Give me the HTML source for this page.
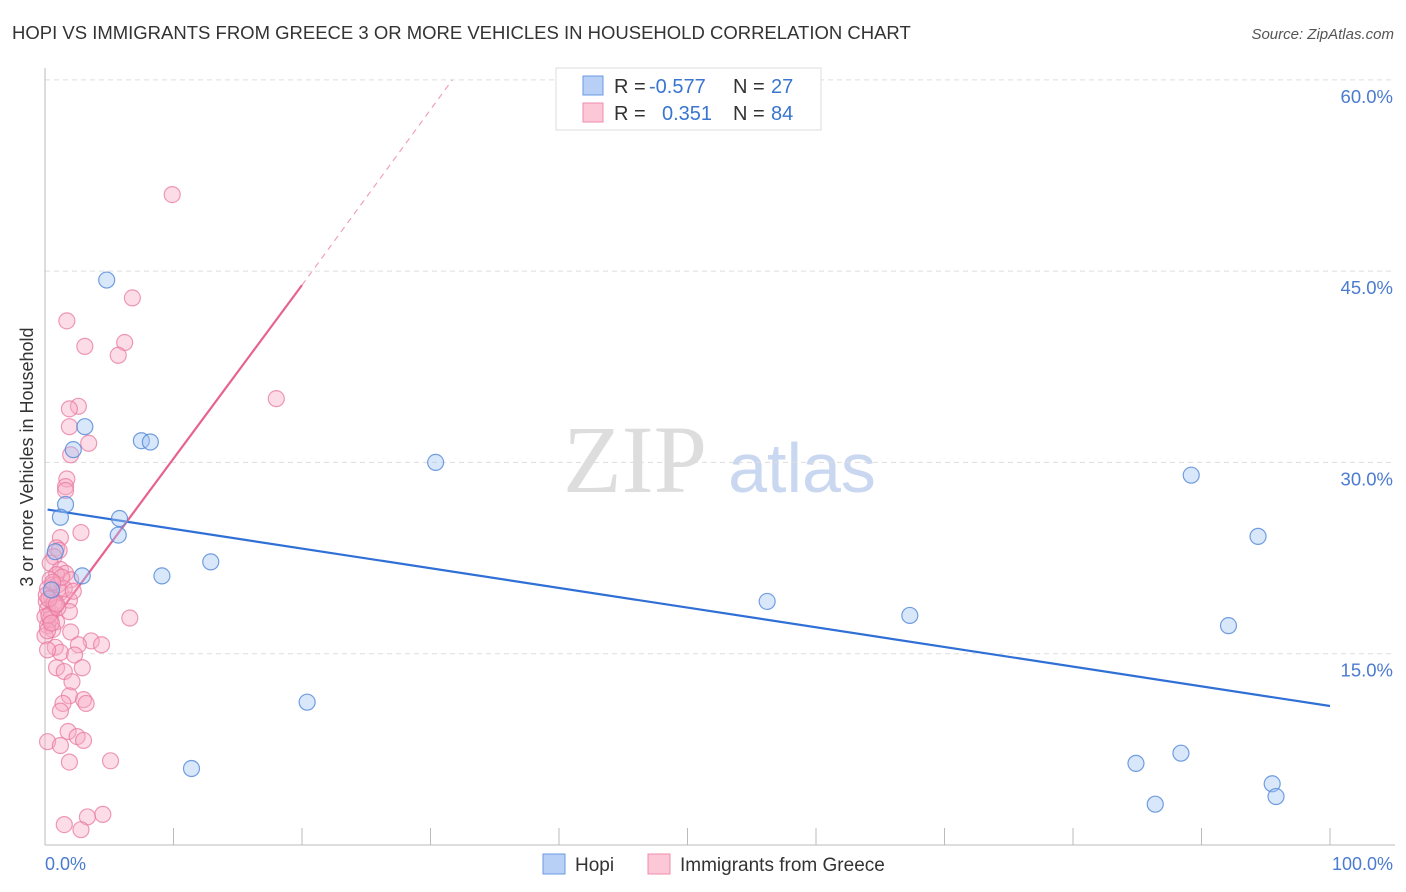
<!DOCTYPE html>
<html><head><meta charset="utf-8"><style>
body{margin:0;background:#fff;font-family:"Liberation Sans",sans-serif;}
svg{display:block}
</style></head><body>
<svg id="chart" width="1406" height="892">
<text x="12" y="39" font-size="18.5" fill="#333">HOPI VS IMMIGRANTS FROM GREECE 3 OR MORE VEHICLES IN HOUSEHOLD CORRELATION CHART</text>
<text x="1394" y="39" font-size="15" fill="#555" font-style="italic" text-anchor="end">Source: ZipAtlas.com</text>
<text x="635" y="492" font-size="96" fill="#ddd" font-family="Liberation Serif,serif" text-anchor="middle">ZIP</text>
<text x="802" y="492" font-size="70" fill="#c9d8f0" text-anchor="middle">atlas</text>
<g id="grid"></g><g id="axes"></g><g id="lines"></g><g id="pts"></g>
<text transform="translate(33,457) rotate(-90)" font-size="18" fill="#333" text-anchor="middle">3 or more Vehicles in Household</text>
<text x="45" y="870" font-size="18" fill="#4a7bd0">0.0%</text>
<text x="1393" y="870" font-size="18" fill="#4a7bd0" text-anchor="end">100.0%</text>
<g>
<rect x="556" y="68" width="265" height="62" fill="#fff" stroke="#ddd"/>
<rect x="583" y="76" width="20" height="19" fill="#b8d0f5" stroke="#6a9ae0"/>
<rect x="583" y="103" width="20" height="19" fill="#fcc8d8" stroke="#ee8cab"/>
<text x="614" y="93" font-size="20" fill="#333">R =</text>
<text x="649" y="93" font-size="20" fill="#3a75d0">-0.577</text>
<text x="733" y="93" font-size="20" fill="#333">N =</text>
<text x="771" y="93" font-size="20" fill="#3a75d0">27</text>
<text x="614" y="120" font-size="20" fill="#333">R =</text>
<text x="662" y="120" font-size="20" fill="#3a75d0">0.351</text>
<text x="733" y="120" font-size="20" fill="#333">N =</text>
<text x="771" y="120" font-size="20" fill="#3a75d0">84</text>
</g>
<g>
<rect x="543" y="854" width="22" height="20" fill="#b8d0f5" stroke="#6a9ae0"/>
<text x="575" y="871" font-size="19" fill="#333">Hopi</text>
<rect x="648" y="854" width="22" height="20" fill="#fcc8d8" stroke="#ee8cab"/>
<text x="680" y="871" font-size="19" fill="#333">Immigrants from Greece</text>
</g>
</svg>
<script>
const yTicks=[15,30,45,60];
const yTickLabels=["15.0%","30.0%","45.0%","60.0%"];
const xTicks=[0,10,20,30,40,50,60,70,80,90,100];
const hopiX=[4.8,3.1,2.2,7.5,8.2,30.4,1.6,1.2,5.8,5.7,0.8,2.9,9.1,12.9,56.2,67.3,89.2,94.4,92.1,20.4,11.4,84.9,88.4,86.4,95.5,95.8,0.5];
const hopiY=[44.3,32.8,31.0,31.7,31.6,30.0,26.7,25.7,25.6,24.3,23.0,21.1,21.1,22.2,19.1,18.0,29.0,24.2,17.2,11.2,6.0,6.4,7.2,3.2,4.8,3.8,20.0];
const greeceX=[9.9,6.8,1.7,6.2,3.1,5.7,18.0,2.6,1.9,1.9,3.4,2.0,1.7,1.6,1.6,2.8,1.2,0.9,1.1,0.7,0.4,1.2,1.6,0.9,2.0,0.4,0.6,0.2,1.2,0.5,0.1,1.9,0.8,0.2,1.9,0.5,0,6.6,0.9,0.2,0.6,2.0,0,3.6,4.4,0.8,2.6,1.2,2.3,0.2,2.9,0.9,1.5,2.1,1.9,3.0,3.2,1.4,1.2,0.2,1.8,2.5,3.0,1.2,5.1,1.9,4.5,3.3,1.5,2.8,0.1,0.4,1.0,1.5,0.3,0.7,1.3,0.2,0.5,1.0,0.3,0.6,2.2,0.9];
const greeceY=[51.0,42.9,41.1,39.4,39.1,38.4,35.0,34.4,34.2,32.8,31.5,30.6,28.7,28.1,27.8,24.5,24.1,23.3,23.1,22.6,22.1,21.6,21.3,21.2,20.8,20.8,20.4,20.1,19.8,19.4,19.1,19.2,18.8,18.5,18.3,18.2,17.9,17.8,17.5,17.2,16.9,16.7,16.4,16.0,15.7,15.5,15.7,15.1,14.9,15.3,13.9,13.9,13.6,12.8,11.7,11.4,11.1,11.1,10.5,8.1,8.9,8.5,8.2,7.8,6.6,6.5,2.4,2.2,1.6,1.2,19.6,17.7,20.4,20.1,18.0,19.0,21.0,16.8,17.4,18.6,19.3,20.6,19.9,18.9];
const hopiTrendX=[0.2,100];
const hopiTrendY=[26.3,10.9];
const greeceTrendX=[0,20,31.7];
const greeceTrendY=[16.7,43.9,60];
const sx=v=>45+v*12.85;
const sy=v=>845-v*12.753;
const NS="http://www.w3.org/2000/svg";
function mk(tag,parent,attrs){const e=document.createElementNS(NS,tag);for(const k in attrs)e.setAttribute(k,attrs[k]);document.getElementById(parent).appendChild(e);return e;}
yTicks.forEach((t,i)=>{
 const l=mk('line','grid',{x1:45,x2:1395,y1:sy(t),y2:sy(t),stroke:'#ddd','stroke-dasharray':'5,4'});
 
 
 const tx=mk('text','grid',{x:1393,y:sy(t)+23,'font-size':18.5,fill:'#4a7bd0','text-anchor':'end'});
 tx.textContent=yTickLabels[i];
 
 
});
const ya=mk('line','axes',{x1:45,x2:45,y1:68,y2:845,stroke:'#bbb'});


const xa=mk('line','axes',{x1:45,x2:1395,y1:845,y2:845,stroke:'#bbb'});


xTicks.forEach(t=>{
 const l=mk('line','axes',{x1:sx(t),x2:sx(t),y1:828,y2:845,stroke:'#bbb'});
 
 
});
function dot(x,y,fill,stroke,name){
 const c=mk('circle','pts',{cx:sx(x),cy:sy(y),r:8,fill:fill,stroke:stroke,'stroke-width':1.2});
 
 
}
greeceX.forEach((x,i)=>dot(x,greeceY[i],'rgba(248,170,195,0.4)','rgba(232,120,160,0.75)','greece-point'));
hopiX.forEach((x,i)=>dot(x,hopiY[i],'rgba(160,195,245,0.4)','rgba(80,135,215,0.8)','hopi-point'));
const bl=mk('line','lines',{x1:sx(hopiTrendX[0]),y1:sy(hopiTrendY[0]),x2:sx(hopiTrendX[1]),y2:sy(hopiTrendY[1]),stroke:'#2f6fd6','stroke-width':2.2});


const pl=mk('line','lines',{x1:sx(greeceTrendX[0]),y1:sy(greeceTrendY[0]),x2:sx(greeceTrendX[1]),y2:sy(greeceTrendY[1]),stroke:'#e8628f','stroke-width':2.2});


const pd=mk('line','lines',{x1:sx(greeceTrendX[1]),y1:sy(greeceTrendY[1]),x2:sx(greeceTrendX[2]),y2:sy(greeceTrendY[2]),stroke:'#f0a0b8','stroke-width':1.2,'stroke-dasharray':'6,5'});


</script>
</body></html>
